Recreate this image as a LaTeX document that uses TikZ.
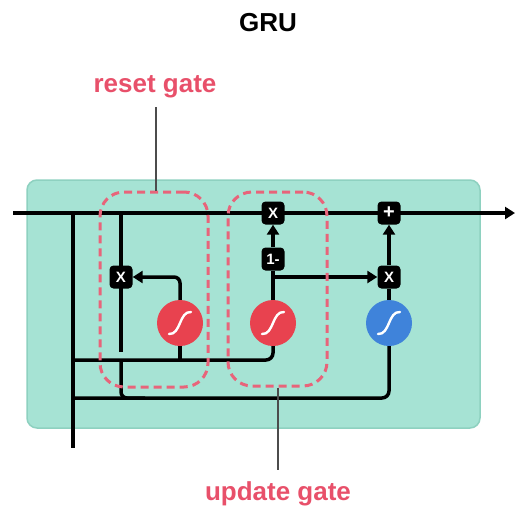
\documentclass[tikz,border=0pt]{standalone}
\usepackage{fontspec}
\setmainfont{Liberation Sans}
\usetikzlibrary{arrows.meta}
\definecolor{cellgreen}{HTML}{A6E3D4}
\definecolor{cellborder}{HTML}{8ED1C0}
\definecolor{sigred}{HTML}{E8424F}
\definecolor{sigblue}{HTML}{3F83DA}
\definecolor{gatered}{HTML}{E8647A}
\definecolor{labelred}{HTML}{E8506A}
\pgfdeclarelayer{back}
\pgfdeclarelayer{lines}
\pgfsetlayers{back,lines,main}
\tikzset{
  wire/.style={line width=3.5pt, draw=black},
  arr/.style={wire, -{Triangle[length=10pt,width=12pt]}},
  opbox/.style={fill=black, rounded corners=4pt, minimum size=23pt, inner sep=0pt, text=white, font=\bfseries\fontsize{15}{15}\selectfont},
  sigm/.style={circle, minimum size=46pt, inner sep=0pt},
  gatebox/.style={draw=gatered, line width=3pt, dash pattern=on 8pt off 5pt, rounded corners=24pt, inner sep=0pt},
  lbl/.style={text=labelred, font=\bfseries\fontsize{26}{26}\selectfont},
  pointer/.style={draw=black!70, line width=1.2pt},
  glyph/.style={draw=white, line width=2.4pt, line cap=round}
}
\newcommand\sigglyph[1]{\draw[glyph] ([shift={(-11,11)}]#1.center) .. controls ([shift={(1,12)}]#1.center) and ([shift={(-1,-12)}]#1.center) .. ([shift={(11,-11)}]#1.center);}
\begin{document}
\begin{tikzpicture}[x=1pt,y=-1pt]
\useasboundingbox (0,0) rectangle (516,511);
% cell background
\begin{pgfonlayer}{back}
\draw[fill=cellgreen, draw=cellborder, line width=1.5pt, rounded corners=10pt] (27,180) rectangle (480,428);
\end{pgfonlayer}
% title and labels
\node[font=\bfseries\fontsize{26}{26}\selectfont] (title) at (268,23) {GRU};
\node[lbl] (rgl) at (155,87) {reset gate};
\node[lbl] (ugl) at (278,494) {update gate};
% operation nodes
\node[opbox] (xL) at (121,277) {X};
\node[opbox] (xT) at (273,213) {X};
\node[opbox] (om) at (273,259) {1-};
\node[opbox, font=\bfseries\fontsize{20}{20}\selectfont] (plus) at (389,213) {+};
\node[opbox] (xR) at (389,277) {X};
\node[sigm, fill=sigred] (sigL) at (180,323) {};
\node[sigm, fill=sigred] (sigM) at (273,323) {};
\node[sigm, fill=sigblue] (sigB) at (389,323) {};
\sigglyph{sigL}
\sigglyph{sigM}
\sigglyph{sigB}
% coordinates
\coordinate (in) at (13,213);
\coordinate (out) at (515,213);
\coordinate (j1) at (73,213);
\coordinate (j2) at (73,360);
\coordinate (j3) at (73,398);
\coordinate (xin) at (73,448);
\coordinate (c1) at (121,213);
\coordinate (c2) at (121,352);
\coordinate (c3) at (121,360);
\coordinate (c4) at (121,398);
\coordinate (c5) at (145,398);
% wires
\begin{pgfonlayer}{lines}
\draw[arr] (in) -- (out);
\draw[wire] (j1) -- (xin);
\draw[wire, rounded corners=7pt] (j2) -| (sigM.south);
\draw[wire] (sigL.south) -- (sigL.south |- j2);
\draw[wire, rounded corners=7pt] (j3) -| (sigB.south);
\draw[wire] (c1) -- (c2);
\draw[wire, rounded corners=6pt] (c3) -- (c4) -- (c5);
\draw[arr, rounded corners=6pt] (sigL.north) |- (xL.east);
\draw[wire] (sigM.north) -- (om.south);
\draw[arr] (om.north) -- (xT.south);
\draw[arr] (sigM.north |- xR.west) -- (xR.west);
\draw[wire] (sigB.north) -- (xR.south);
\draw[arr] (xR.north) -- (plus.south);
\end{pgfonlayer}
% gate boxes
\node[gatebox, minimum width=108pt, minimum height=195pt] (rgbox) at (154,289.5) {};
\node[gatebox, minimum width=99pt, minimum height=194pt] (ugbox) at (277.5,289) {};
\coordinate (rgp) at (156,107);
\coordinate (ugp) at (278,470);
\draw[pointer] (rgp) -- (rgp |- rgbox.north);
\draw[pointer] (ugp |- ugbox.south) -- (ugp);
\end{tikzpicture}
\end{document}
